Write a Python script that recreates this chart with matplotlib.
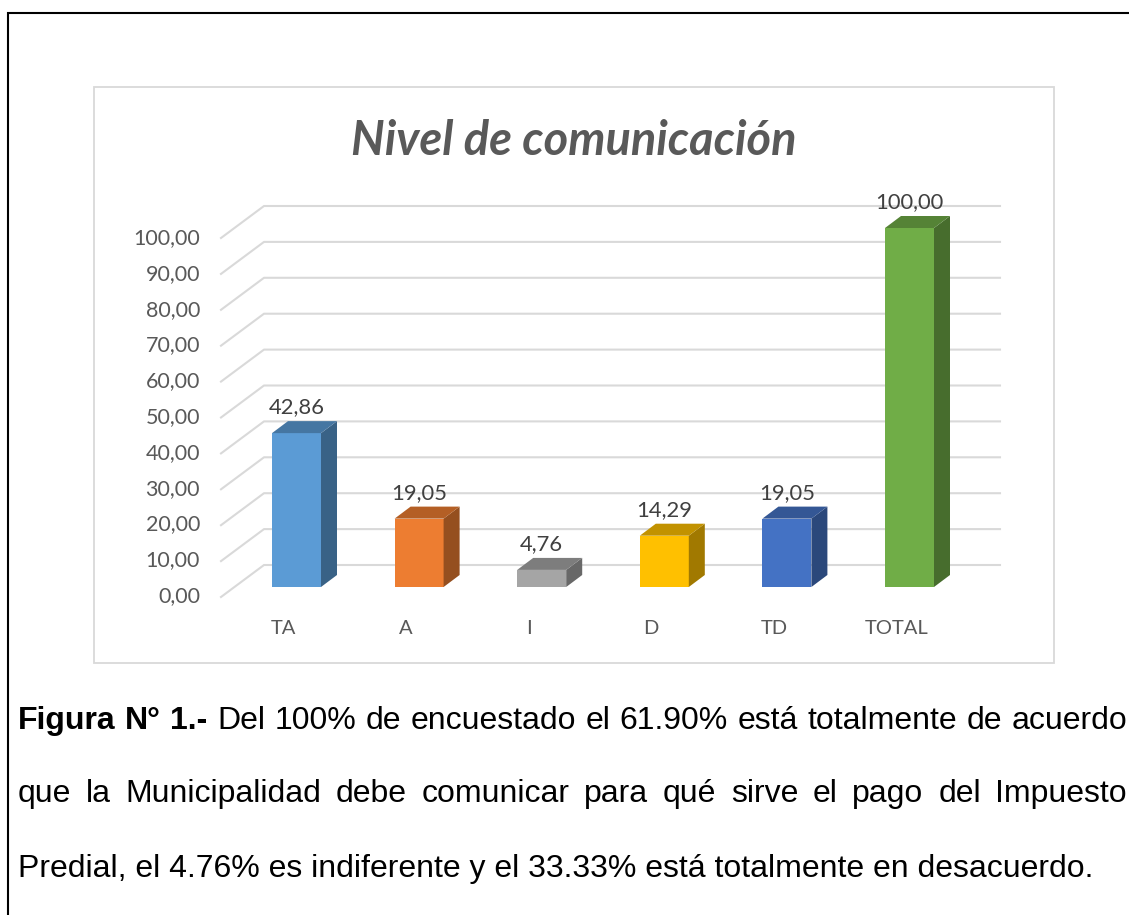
import matplotlib
matplotlib.use("Agg")
import matplotlib.pyplot as plt
from matplotlib.patches import Polygon, Rectangle
from matplotlib.colors import to_rgb

categories = ["TA", "A", "I", "D", "TD", "TOTAL"]
values = [42.86, 19.05, 4.76, 14.29, 19.05, 100.00]
colors = ["#5B9BD5", "#ED7D31", "#A5A5A5", "#FFC000", "#4472C4", "#70AD47"]
y_ticks = [0, 10, 20, 30, 40, 50, 60, 70, 80, 90, 100]
title = "Nivel de comunicación"
caption = [
    [("Figura", True), ("N°", True), ("1.-", True), ("Del", False), ("100%", False), ("de", False),
     ("encuestado", False), ("el", False), ("61.90%", False), ("está", False), ("totalmente", False),
     ("de", False), ("acuerdo", False)],
    [("que", False), ("la", False), ("Municipalidad", False), ("debe", False), ("comunicar", False),
     ("para", False), ("qué", False), ("sirve", False), ("el", False), ("pago", False), ("del", False),
     ("Impuesto", False)],
]
last_line = "Predial, el 4.76% es indiferente y el 33.33% está totalmente en desacuerdo."

W, H = 1129, 915
x0, step = 296.5, 122.6   # pixel of first bar centre, pixels per category
y0, unit = 587.0, 3.59    # pixel of bar base, pixels per value unit
bar_w = 49 / step
bar_dx, bar_dy = 16 / step, 12 / unit
wall_l, wall_r = (264 - x0) / step, (1000 - x0) / step
front_l = (221 - x0) / step
wall_up, front_down = 22 / unit, 10 / unit


def shade(c, f):
    return tuple(v * f for v in to_rgb(c))


fig = plt.figure(figsize=(W / 100, H / 100), dpi=100, facecolor="white")
ax = fig.add_axes([0, 0, 1, 1])
ax.set_xlim(-x0 / step, (W - x0) / step)
ax.set_ylim((y0 - H) / unit, y0 / unit)
ax.axis("off")

# page border and chart frame, in pixels from the top left
page = fig.add_axes([0, 0, 1, 1], zorder=-1)
page.set_xlim(0, W)
page.set_ylim(H, 0)
page.axis("off")
page.plot([7.5, 7.5, W], [H, 13, 13], color="black", lw=1.5, solid_joinstyle="miter")
page.add_patch(Rectangle((94, 87), 960, 576, fc="white", ec="#D9D9D9", lw=1.3))

for v in y_ticks:
    ax.plot([front_l, wall_l, wall_r], [v - front_down, v + wall_up, v + wall_up],
            color="#D9D9D9", lw=1.5, zorder=1)
    page.text(200, 596 - v * unit * 0.997, f"{v:.2f}".replace(".", ","),
              ha="right", va="center", family="Lato", fontsize=15.5, color="#595959")

for i, (cat, v, c) in enumerate(zip(categories, values, colors)):
    l, r = i - bar_w / 2, i + bar_w / 2
    ax.add_patch(Polygon([(l, 0), (r, 0), (r, v), (l, v)], fc=c, ec="none", zorder=3))
    ax.add_patch(Polygon([(r, 0), (r + bar_dx, bar_dy), (r + bar_dx, v + bar_dy), (r, v)],
                         fc=shade(c, 0.63), ec="none", zorder=3))
    ax.add_patch(Polygon([(l, v), (r, v), (r + bar_dx, v + bar_dy), (l + bar_dx, v + bar_dy)],
                         fc=shade(c, 0.76), ec="none", zorder=3))
    ax.text(i, v + 26 / unit, f"{v:.2f}".replace(".", ","), ha="center", va="center",
            family="Lato", fontsize=15.8, color="#404040", zorder=4)
    ax.text(i - 13 / step, -42 / unit, cat, ha="center", va="center",
            family="Lato", fontsize=14.5, color="#595959", zorder=4)

page.text(574, 141, title, ha="center", va="center", family="Lato", style="italic",
          weight="bold", fontsize=33.8, color="#595959")

# justified caption lines
renderer = fig.canvas.get_renderer()
size = 23
font = "Liberation Sans"
for words, base in zip(caption, [729, 802]):
    items = [page.text(0, base, w, family=font, fontsize=size, va="baseline",
                       weight="bold" if b else "normal", color="black") for w, b in words]
    widths = [t.get_window_extent(renderer).width for t in items]
    gap = (1127 - 18 - sum(widths)) / (len(items) - 1)
    x = 18
    for t, w in zip(items, widths):
        t.set_x(x)
        x += w + gap
page.text(18, 877, last_line, family=font, fontsize=size, va="baseline", color="black")

fig.savefig("out.png", dpi=100, facecolor="white")
